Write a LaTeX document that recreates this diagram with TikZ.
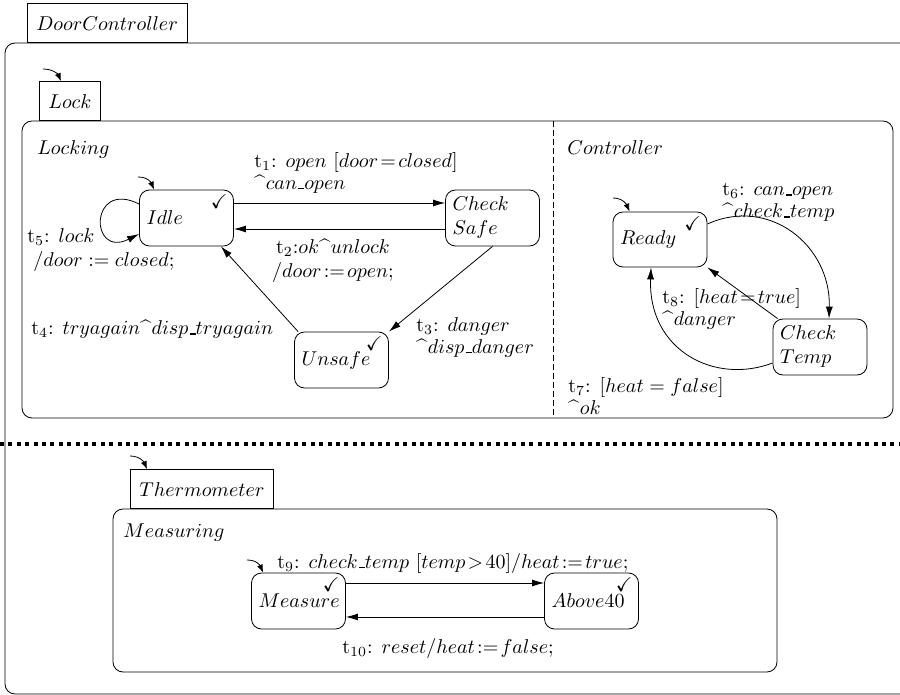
\documentclass[tikz,border=0pt]{standalone}
\usepackage{amssymb}
\usepackage{tikz}
\usetikzlibrary{arrows.meta}

\newcommand{\sendev}{\mbox{$\widehat{\hphantom{x}}$}}
\newcommand{\us}{\mbox{\kern.06em\vbox{\hrule width .3em height .7pt}}}

\begin{document}
\begin{tikzpicture}[x=0.5pt,y=-0.5pt,
    statebox/.style={draw, rounded corners=5pt, minimum width=47pt, minimum height=28pt,
      text width=40pt, inner xsep=3.5pt, inner ysep=2pt, align=left},
    done/.style={label={[anchor=north east, inner sep=0pt, xshift=-3pt, yshift=-2.5pt]north east:$\checkmark$}},
    tabbox/.style={draw, anchor=south west, minimum height=19.5pt, inner xsep=4.5pt},
    lbl/.style={anchor=north west, inner sep=0pt, align=left},
    region/.style={rounded corners=5pt},
    transarrow/.style={-{Latex[length=6pt,width=3.5pt]}},
    initarrow/.style={-{Latex[length=4pt,width=3pt]}},
    sepline/.style={line width=2pt, dash pattern=on 2pt off 2.2pt}]
  \path[use as bounding box] (0,0) rectangle (900,695);

  %Shape: Outer region
  \draw[region] (900,43) -- (5,43) -- (5,694) -- (900,694);
  \node (doorctrl) [tabbox] at (27,43) {$DoorController$};

  %Shape: Lock region
  \draw[region] (22,121) rectangle (893,418);
  \node (lock) [tabbox] at (39,121) {$Lock$};
  \coordinate (lockinit) at (43,69);
  \draw[initarrow] (lockinit) .. controls +(10,0) and +(-3,-7) .. ([xshift=11pt]lock.north west);
  %Straight Lines: orthogonal split
  \draw[dash pattern=on 3pt off 1.5pt] (553,121) -- (553,418);

  % Text Node
  \node (locking) [lbl] at (37,140) {$Locking$};
  % Text Node
  \node (controller) [lbl] at (567,140) {$Controller$};

  %Shape: States of Locking
  \node (idle) [statebox, done] at (186.5,218) {$Idle$};
  \node (safe) [statebox] at (492.5,218) {$Check$\\$Safe$};
  \node (unsafe) [statebox, done] at (341.5,360) {$Unsafe$};
  \coordinate (idleinit) at (138,177);
  \draw[initarrow] (idleinit) .. controls +(10,0) and +(-3,-7) .. ([xshift=7.5pt]idle.north west);

  %Transitions of Locking
  \draw[transarrow] ([yshift=7.5pt]idle.east) -- ([yshift=7.5pt]safe.west);
  \draw[transarrow] ([yshift=-5.5pt]safe.west) -- ([yshift=-5.5pt]idle.east);
  \draw[transarrow] (safe.south) -- (unsafe.north east);
  \draw[transarrow] ([xshift=2pt]unsafe.north west) -- ([xshift=-6.5pt]idle.south east);
  \draw[transarrow] ([yshift=7pt]idle.west) .. controls +(-50,-25) and +(-50,25) .. ([yshift=-8pt]idle.west);

  % Text Node
  \node (t1) [lbl] at (254,152) {t$_1$: $open$ [$door\!=\!closed$]\\[-1pt]\sendev$can\us open$};
  % Text Node
  \node (t2) [lbl, anchor=north, align=center] at (333,239) {t$_2$:$ok$\sendev$unlock$\\$/door\!:=\!open;$};
  % Text Node
  \node (t3) [lbl] at (416,317) {t$_3$: $danger$\\[-1pt]\sendev$disp\us danger$};
  % Text Node
  \node (t4) [lbl] at (31,320) {t$_4$: $tryagain$\sendev$disp\us tryagain$};
  % Text Node
  \node (t5) [lbl] at (27,228) {t$_5$: $lock$\\\hspace{3pt}$/door := closed;$};

  %Shape: States of Controller
  \node (ready) [statebox, done, minimum height=27.5pt] at (660,239.5) {$Ready$};
  \node (temp) [statebox] at (820,347) {$Check$\\$Temp$};
  \coordinate (readyinit) at (613,198);
  \draw[initarrow] (readyinit) .. controls +(10,0) and +(-3,-7) .. ([xshift=8.5pt]ready.north west);

  %Transitions of Controller
  \draw[transarrow] ([yshift=7.75pt]ready.east) .. controls +(62,-28) and +(2,-73) .. ([xshift=4.5pt]temp.north);
  \draw[transarrow] ([yshift=-8pt]temp.west) .. controls +(-58,22) and +(-3,83) .. ([xshift=-4.5pt]ready.south);
  \draw[transarrow] ([xshift=2.5pt]temp.north west) -- (ready.south east);

  % Text Node
  \node (t6) [lbl] at (722,183) {t$_6$: $can\us open$\\[-1pt]\sendev$check\us temp$};
  % Text Node
  \node (t8) [lbl] at (662,288) {t$_8$: [$heat\!=\!true$]\\[-1pt]\sendev$danger$};
  % Text Node
  \node (t7) [lbl] at (568,377) {t$_7$: [$heat = false$]\\[-1pt]\sendev$ok$};

  %Straight Lines: concurrency separator
  \draw[sepline] (0,444) -- (900,444);

  %Shape: Thermometer region
  \draw[region] (113,509) rectangle (777,672);
  \node (thermo) [tabbox] at (130,509) {$Thermometer$};
  \coordinate (thermoinit) at (130,456);
  \draw[initarrow] (thermoinit) .. controls +(10,0) and +(-3,-7) .. ([xshift=8.5pt]thermo.north west);

  % Text Node
  \node (measuring) [lbl] at (123,523) {$Measuring$};

  %Shape: States of Measuring
  \node (measure) [statebox, done] at (298.5,601) {$Measure$};
  \node (above) [statebox, done] at (591.5,601) {$Above40$};
  \coordinate (measinit) at (247,560);
  \draw[initarrow] (measinit) .. controls +(10,0) and +(-3,-7) .. ([xshift=6pt]measure.north west);

  %Transitions of Measuring
  \draw[transarrow] ([yshift=9pt]measure.east) -- ([yshift=9pt]above.west);
  \draw[transarrow] ([yshift=-8pt]above.west) -- ([yshift=-8pt]measure.east);

  % Text Node
  \node (t9) [lbl] at (277,553) {t$_9$: $check\us temp$ [$temp\!>\!40$]$/heat\!:=\!true;$};
  % Text Node
  \node (t10) [lbl] at (342,638) {t$_{10}$: $reset/heat\!:=\!false;$};

\end{tikzpicture}
\end{document}
